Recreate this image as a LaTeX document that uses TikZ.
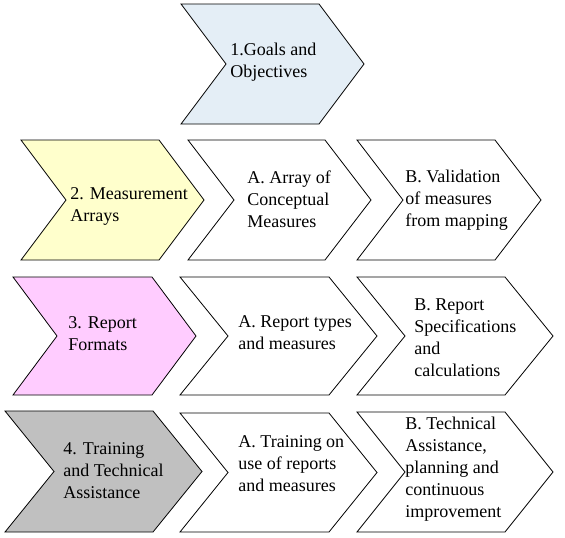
\documentclass[tikz,border=0pt]{standalone}
\usepackage{fontspec}
\setmainfont{Liberation Serif}
\definecolor{goalfill}{RGB}{228,238,246}
\definecolor{measfill}{RGB}{255,255,204}
\definecolor{repfill}{RGB}{255,204,255}
\definecolor{trainfill}{RGB}{192,192,192}
\def\chevron[#1](#2,#3)(#4:#5:#6){\draw[#1] (#2,#3) -- ++(#4,0) -- ++(#5,#6/2) -- ++(-#5,#6/2) -- ++(-#4,0) -- ++(#5,-#6/2) -- cycle;}

\begin{document}
\begin{tikzpicture}[x=1pt,y=-1pt,line width=0.8pt,
	lbl/.style={anchor=base west,align=left,inner sep=0pt,font=\fontsize{18}{22}\selectfont}]
				\useasboundingbox (0,0) rectangle (565,538);
				
				\chevron[fill=goalfill](181,4)(138:45:120)
				\node[lbl] (goals) at (230,77) {1.Goals and\\Objectives};
				
				\chevron[fill=measfill](21,140)(138:45:120)
				\node[lbl] (measure) at (70,221) {2. Measurement\\Arrays};
				\chevron[fill=white](188,140)(137:46:120)
				\node[lbl] (arrayA) at (247,227) {A. Array of\\Conceptual\\Measures};
				\chevron[fill=white](357,140)(138:46:120)
				\node[lbl] (validB) at (405,226) {B. Validation\\of measures\\from mapping};
				
				\chevron[fill=repfill](13,277)(139:44:118)
				\node[lbl] (report) at (68,350) {3. Report\\Formats};
				\chevron[fill=white](180,277)(149:48:118)
				\node[lbl] (typesA) at (238,349) {A. Report types\\and measures};
				\chevron[fill=white](357,277)(148:48:118)
				\node[lbl] (specB) at (414,376) {B. Report\\Specifications\\and\\calculations};
				
				\chevron[fill=trainfill](5,411)(148:49:121)
				\node[lbl] (train) at (63,498) {4. Training\\and Technical\\Assistance};
				\chevron[fill=white](180,413)(149:48:119)
				\node[lbl] (trainA) at (238,491) {A. Training on\\use of reports\\and measures};
				\chevron[fill=white](357,412)(148:48:120)
				\node[lbl] (assistB) at (405,517) {B. Technical\\Assistance,\\planning and\\continuous\\improvement};
			\end{tikzpicture}
\end{document}
